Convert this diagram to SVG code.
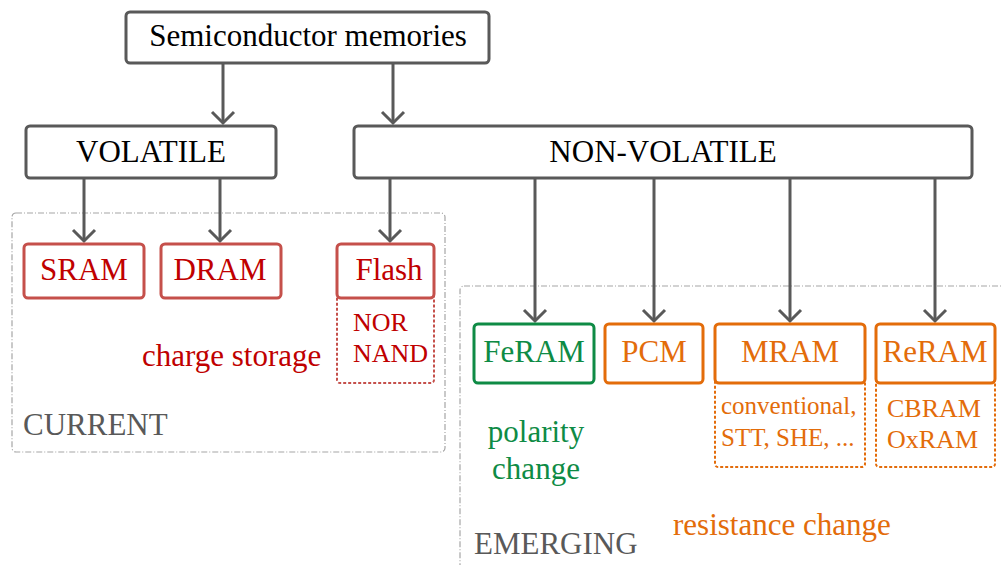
<svg xmlns="http://www.w3.org/2000/svg" width="1002" height="565" viewBox="0 0 1002 565">
<style>
text{font-family:'Liberation Serif','Times New Roman',serif;font-size:31px}
.c{text-anchor:middle}
.gbox{fill:#fff;stroke:#595959;stroke-width:3}
.rbox{fill:#fff;stroke:#C5504B;stroke-width:3}
.obox{fill:#fff;stroke:#E36C0A;stroke-width:3}
.fbox{fill:#fff;stroke:#0E8B45;stroke-width:3}
.rsub{fill:none;stroke:#C5504B;stroke-width:2;stroke-dasharray:3 2}
.osub{fill:none;stroke:#E36C0A;stroke-width:2;stroke-dasharray:3 2}
.area{fill:none;stroke:#A6A6A6;stroke-width:1.2;stroke-dasharray:6 2 1 2}
.k{fill:#000}
.r{fill:#C00000}
.o{fill:#E36C0A}
.g{fill:#0E8B45}
.gr{fill:#595959}
.sm{font-size:26px}
.xs{font-size:25px}
.conn path{stroke:#595959;stroke-width:3;fill:none;marker-end:url(#ah)}
</style>
<defs>
<marker id="ah" markerUnits="userSpaceOnUse" markerWidth="30" markerHeight="30" viewBox="-15 -15 30 30" refX="0" refY="0" orient="auto">
<path d="M-11,-11 L0,0 L-11,11" fill="none" stroke="#595959" stroke-width="3"/>
</marker>
</defs>
<g id="area-current"><rect class="area" x="12" y="213" width="433" height="239" rx="4"/><text class="gr" x="23" y="435">CURRENT</text></g>
<g id="area-emerging"><rect class="area" x="460" y="286" width="580" height="320" rx="4"/><text class="gr" x="474" y="554">EMERGING</text></g>
<g class="conn" id="connectors">
<path d="M223,63 V123"/>
<path d="M393,63 V123"/>
<path d="M84,178 V241"/>
<path d="M220,178 V241"/>
<path d="M390,178 V241"/>
<path d="M535,178 V321"/>
<path d="M654,178 V321"/>
<path d="M790,178 V321"/>
<path d="M935,178 V321"/>
</g>
<g id="root"><rect class="gbox" x="126" y="12" width="363" height="51" rx="4"/><text class="k c" x="308" y="46">Semiconductor memories</text></g>
<g id="volatile"><rect class="gbox" x="26" y="126" width="250" height="52" rx="4"/><text class="k c" x="151" y="162">VOLATILE</text></g>
<g id="nonvolatile"><rect class="gbox" x="354" y="126" width="618" height="52" rx="4"/><text class="k c" x="663" y="162">NON-VOLATILE</text></g>
<g id="sram"><rect class="rbox" x="24" y="244" width="120" height="54" rx="4"/><text class="r c" x="84" y="280">SRAM</text></g>
<g id="dram"><rect class="rbox" x="161" y="244" width="120" height="54" rx="4"/><text class="r c" x="220" y="280">DRAM</text></g>
<g id="flash"><rect class="rsub" x="337" y="292" width="97" height="91" rx="3"/><rect class="rbox" x="337" y="244" width="97" height="54" rx="4"/><text class="r c" x="389" y="280">Flash</text><text class="r sm" x="353" y="331">NOR</text><text class="r sm" x="353" y="362">NAND</text></g>
<g id="charge"><text class="r" x="142" y="366">charge storage</text></g>
<g id="feram"><rect class="fbox" x="474" y="324" width="120" height="59" rx="4"/><text class="g c" x="534" y="362">FeRAM</text></g>
<g id="polarity"><text class="g c" x="536" y="442">polarity</text><text class="g c" x="536" y="479">change</text></g>
<g id="pcm"><rect class="obox" x="605" y="324" width="98" height="59" rx="4"/><text class="o c" x="654" y="362">PCM</text></g>
<g id="mram"><rect class="osub" x="715" y="378" width="150" height="89" rx="3"/><rect class="obox" x="715" y="324" width="150" height="59" rx="4"/><text class="o c" x="790" y="362">MRAM</text><text class="o xs" x="721" y="414">conventional,</text><text class="o xs" x="721" y="446">STT, SHE, ...</text></g>
<g id="reram"><rect class="osub" x="876" y="378" width="119" height="89" rx="3"/><rect class="obox" x="876" y="324" width="119" height="59" rx="4"/><text class="o c" x="935" y="362">ReRAM</text><text class="o sm" x="887" y="417">CBRAM</text><text class="o sm" x="887" y="448">OxRAM</text></g>
<g id="resistance"><text class="o" x="673" y="535">resistance change</text></g>
</svg>
